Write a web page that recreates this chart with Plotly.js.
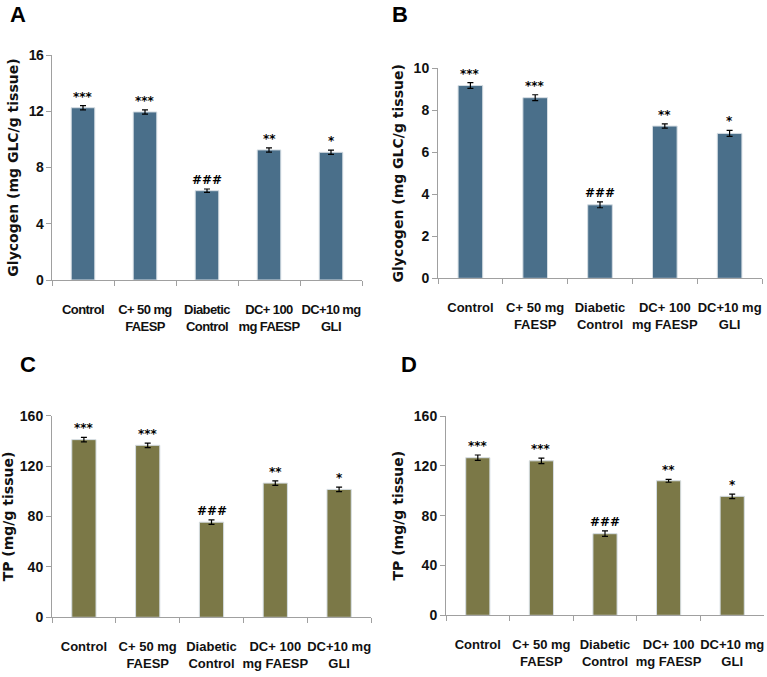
<!DOCTYPE html>
<html><head><meta charset="utf-8">
<script src="https://cdn.plot.ly/plotly-3.0.1.min.js"></script>
<style>body{margin:0;background:#fff}#chart{width:767px;height:677px}
.xtick text,.ytick text{letter-spacing:-0.6px}</style>
</head><body><div id="chart"></div>
<script>
const categories = ["Control", "C+ 50 mg<br>FAESP", "Diabetic<br>Control", "DC+ 100<br>mg FAESP", "DC+10 mg<br>GLI"];
const glycogenA = [12.25, 11.95, 6.35, 9.25, 9.08];
const glycogenAErr = [0.15, 0.15, 0.12, 0.15, 0.15];
const glycogenB = [9.18, 8.6, 3.5, 7.25, 6.9];
const glycogenBErr = [0.14, 0.14, 0.14, 0.1, 0.14];
const tpC = [141, 136.5, 75.5, 106.5, 101.5];
const tpCErr = [1.8, 1.8, 1.8, 1.8, 1.8];
const tpD = [126.5, 124, 65.5, 108, 95.5];
const tpDErr = [2.2, 2.2, 2.2, 1.2, 1.8];
const sigA = ["***", "***", "###", "**", "*"];
const sigB = ["***", "***", "###", "**", "*"];
const sigC = ["***", "***", "###", "**", "*"];
const sigD = ["***", "***", "###", "**", "*"];
const panelLetters = ["A", "B", "C", "D"];

const blue = "#4a6f8a", olive = "#7b7847";
const tickFont = {family: "Liberation Sans, Arial, sans-serif", size: 13, color: "#111", weight: "bold"};
const yTickFont = {family: "Liberation Sans, Arial, sans-serif", size: 14, color: "#111", weight: "bold"};
const titleFont = {family: "DejaVu Sans, sans-serif", size: 14, color: "#111", weight: "bold"};

function barTrace(vals, errs, color, xa, ya) {
  return {type: "bar", x: categories, y: vals, xaxis: xa, yaxis: ya,
    marker: {color: color, line: {color: "#d5dde3", width: 1}},
    width: 0.38,
    error_y: {type: "data", array: errs, visible: true, color: "#000", thickness: 1.2, width: 3},
    showlegend: false, hoverinfo: "skip"};
}
const traces = [
  barTrace(glycogenA, glycogenAErr, blue, "x", "y"),
  barTrace(glycogenB, glycogenBErr, blue, "x2", "y2"),
  barTrace(tpC, tpCErr, olive, "x3", "y3"),
  barTrace(tpD, tpDErr, olive, "x4", "y4")
];

function xax(domain, anchor) {
  return {domain: domain, anchor: anchor, type: "category", showline: true, linecolor: "#a0a0a0", linewidth: 1,
    ticks: "outside", tickson: "boundaries", ticklen: 5, tickcolor: "#a0a0a0", tickangle: 0,
    tickfont: tickFont, showgrid: false, zeroline: false, ticklabelstandoff: 17, fixedrange: true};
}
function yax(domain, anchor, range, dtick, title) {
  return {domain: domain, anchor: anchor, range: range, dtick: dtick, showline: true, linecolor: "#a0a0a0", linewidth: 1,
    ticks: "outside", ticklen: 5, tickcolor: "#a0a0a0", tickfont: yTickFont, showgrid: false, zeroline: false,
    title: {text: title, font: titleFont, standoff: 6}, automargin: false, fixedrange: true};
}

const annotations = [];
function addSig(sig, vals, errs, xa, ya) {
  sig.forEach((s, i) => annotations.push({x: categories[i], y: vals[i] + errs[i], xref: xa, yref: ya,
    text: "<b>" + s + "</b>", showarrow: false, yanchor: "bottom", yshift: 0,
    font: {family: "DejaVu Sans, sans-serif", size: 12, color: "#000"}}));
}
addSig(sigA, glycogenA, glycogenAErr, "x", "y");
addSig(sigB, glycogenB, glycogenBErr, "x2", "y2");
addSig(sigC, tpC, tpCErr, "x3", "y3");
addSig(sigD, tpD, tpDErr, "x4", "y4");
const letterPos = [[8, 14], [390, 14], [18, 364], [399, 364]];
panelLetters.forEach((L, i) => annotations.push({xref: "paper", yref: "paper",
  x: letterPos[i][0] / 767, y: 1 - letterPos[i][1] / 677, xanchor: "left", yanchor: "middle",
  text: L, showarrow: false, font: {family: "Liberation Sans, sans-serif", size: 22, color: "#000", weight: "bold"}}));

const layout = {
  width: 767, height: 677, margin: {l: 0, r: 0, t: 0, b: 0},
  paper_bgcolor: "#fff", plot_bgcolor: "#fff", showlegend: false,
  xaxis: xax([52/767, 362/767], "y"),
  yaxis: yax([1-280/677, 1-55/677], "x", [0, 16], 4, "Glycogen (mg GLC/g tissue)"),
  xaxis2: xax([438/767, 762/767], "y2"),
  yaxis2: yax([1-278.3/677, 1-68.3/677], "x2", [0, 10], 2, "Glycogen (mg GLC/g tissue)"),
  xaxis3: xax([52/767, 371/767], "y3"),
  yaxis3: yax([1-617.3/677, 1-415.7/677], "x3", [0, 160], 40, "TP (mg/g tissue)"),
  xaxis4: xax([446/767, 764/767], "y4"),
  yaxis4: yax([1-615.3/677, 1-416/677], "x4", [0, 160], 40, "TP (mg/g tissue)"),
  annotations: annotations
};
Plotly.newPlot("chart", traces, layout, {displayModeBar: false, staticPlot: true});
</script></body></html>
